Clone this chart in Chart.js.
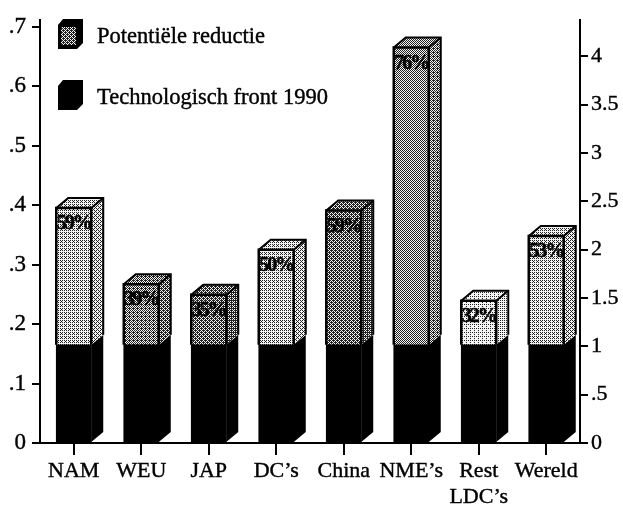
<!DOCTYPE html>
<html>
<head>
<meta charset="utf-8">
<script src="https://cdn.jsdelivr.net/npm/chart.js@4"></script>
<style>
  html, body { margin: 0; padding: 0; background: #fff; }
  canvas { display: block; }
</style>
</head>
<body>
<canvas id="myChart" width="623" height="507"></canvas>
<script>
'use strict';

//data
const categories = ['NAM', 'WEU', 'JAP', 'DC’s', 'China', 'NME’s', ['Rest', 'LDC’s'], 'Wereld'];
const frontValues = [0.165, 0.165, 0.165, 0.165, 0.165, 0.165, 0.165, 0.165];
const reductionValues = [0.230, 0.102, 0.084, 0.160, 0.226, 0.500, 0.074, 0.183];
const percentLabels = ['59%', '39%', '35%', '50%', '59%', '76%', '32%', '53%'];
const seriesNames = ['Potentiële reductie', 'Technologisch front 1990'];
const leftTicks = [0, 0.1, 0.2, 0.3, 0.4, 0.5, 0.6, 0.7];
const rightTicks = [0, 0.5, 1, 1.5, 2, 2.5, 3, 3.5, 4];

//how dark the dither is on each bar
const shades = [0.30, 0.56, 0.60, 0.32, 0.60, 0.48, 0.18, 0.30];

const FONT = '"Liberation Serif", serif';
const depthX = 12;
const depthY = 10;

const bayer = [
  [0, 8, 2, 10],
  [12, 4, 14, 6],
  [3, 11, 1, 9],
  [15, 7, 13, 5]
];

function makePattern(density) {
  let c = document.createElement('canvas');
  c.width = 4;
  c.height = 4;
  let g = c.getContext('2d');
  g.fillStyle = '#f4f4f4';
  g.fillRect(0, 0, 4, 4);
  g.fillStyle = '#222';
  for (let y = 0; y < 4; y++) {
    for (let x = 0; x < 4; x++) {
      if ((bayer[y][x] + 0.5) / 16 < density) {
        g.fillRect(x, y, 1, 1);
      }
    }
  }
  return g.createPattern(c, 'repeat');
}

const frontPatterns = shades.map(s => makePattern(s));
const sidePatterns = shades.map(s => makePattern(Math.min(s + 0.08, 0.9)));

function poly(ctx, pts, fill) {
  ctx.beginPath();
  ctx.moveTo(pts[0][0], pts[0][1]);
  for (let i = 1; i < pts.length; i++) {
    ctx.lineTo(pts[i][0], pts[i][1]);
  }
  ctx.closePath();
  ctx.fillStyle = fill;
  ctx.fill();
}

function outline(ctx, pts, width) {
  ctx.beginPath();
  ctx.moveTo(pts[0][0], pts[0][1]);
  for (let i = 1; i < pts.length; i++) {
    ctx.lineTo(pts[i][0], pts[i][1]);
  }
  ctx.lineWidth = width;
  ctx.strokeStyle = '#000';
  ctx.stroke();
}

//chart.js has no 3d bars, so the side and top faces hang off the bar elements
const boxPlugin = {
  id: 'box',
  afterDatasetsDraw(chart) {
    let ctx = chart.ctx;
    let blackBars = chart.getDatasetMeta(0).data;
    let upperBars = chart.getDatasetMeta(1).data;

    ctx.save();
    for (let i = 0; i < upperBars.length; i++) {
      let up = upperBars[i];
      let low = blackBars[i];
      let l = up.x - up.width / 2;
      let r = up.x + up.width / 2;
      let top = up.y;
      let mid = low.y;
      let base = low.base;

      //black side
      poly(ctx, [[r, base], [r + depthX, base - depthY], [r + depthX, mid - depthY], [r, mid]], '#000');

      //upper side and top
      let side = [[r, mid], [r + depthX, mid - depthY], [r + depthX, top - depthY], [r, top]];
      let lid = [[l, top], [l + depthX, top - depthY], [r + depthX, top - depthY], [r, top]];
      poly(ctx, side, sidePatterns[i]);
      poly(ctx, lid, frontPatterns[i]);
      outline(ctx, [[r + depthX, mid - depthY], [r + depthX, top - depthY], [l + depthX, top - depthY], [l, top]], 2);
      outline(ctx, [[r + depthX, top - depthY], [r, top]], 2);
      outline(ctx, [[l, mid], [l, top], [r, top], [r, mid]], 2.5);

      //percent on the front face
      ctx.fillStyle = '#000';
      ctx.strokeStyle = '#000';
      ctx.lineWidth = 0.5;
      ctx.font = 'bold 20px ' + FONT;
      ctx.textAlign = 'center';
      ctx.textBaseline = 'middle';
      ctx.letterSpacing = '-2px';
      ctx.fillText(percentLabels[i], up.x, top + 16);
      ctx.strokeText(percentLabels[i], up.x, top + 16);
      ctx.letterSpacing = '0px';
    }

    //legend sits inside the plot
    let rows = [
      { top: 19, text: seriesNames[0], pattern: makePattern(0.62) },
      { top: 80, text: seriesNames[1], pattern: null }
    ];
    ctx.font = '22.5px ' + FONT;
    ctx.textAlign = 'left';
    ctx.textBaseline = 'middle';
    for (let row of rows) {
      let t = row.top;
      poly(ctx, [[58, t + 6], [63, t], [83, t], [83, t + 24], [77, t + 30], [58, t + 30]], '#000');
      if (row.pattern) {
        poly(ctx, [[61, t + 8], [76, t + 8], [76, t + 26], [61, t + 26]], row.pattern);
      }
      ctx.fillStyle = '#000';
      ctx.strokeStyle = '#000';
      ctx.lineWidth = 0.4;
      ctx.fillText(row.text, 97, t + 18);
      ctx.strokeText(row.text, 97, t + 18);
    }
    ctx.restore();
  }
};

function tickText(v) {
  if (v === 0) {
    return '0';
  }
  return v < 1 ? String(v).replace('0.', '.') : String(v);
}

function forceTicks(list) {
  return function (axis) {
    axis.ticks = list.map(v => ({ value: v }));
  };
}

const data = {
  labels: categories,
  datasets: [
    {
      label: seriesNames[1],
      data: frontValues,
      backgroundColor: '#000',
      yAxisID: 'y',
      barThickness: 35
    },
    {
      label: seriesNames[0],
      data: reductionValues,
      backgroundColor: frontPatterns,
      yAxisID: 'y',
      barThickness: 35
    }
  ]
};

const config = {
  type: 'bar',
  data: data,
  plugins: [boxPlugin],
  options: {
    responsive: false,
    animation: false,
    events: [],
    layout: { padding: { top: 14 } },
    plugins: {
      legend: { display: false },
      tooltip: { enabled: false }
    },
    scales: {
      x: {
        stacked: true,
        grid: { offset: false, drawOnChartArea: false, color: '#000', lineWidth: 2, tickLength: 12 },
        border: { color: '#000', width: 2 },
        ticks: { color: '#000', font: { family: FONT, size: 22 }, padding: 3, maxRotation: 0, autoSkip: false, textStrokeColor: '#000', textStrokeWidth: 0.4 },
        afterFit(axis) { axis.height = 64; }
      },
      y: {
        stacked: true,
        position: 'left',
        min: 0,
        max: 0.7114,
        grid: { drawOnChartArea: false, color: '#000', lineWidth: 2, tickLength: 8 },
        border: { color: '#000', width: 2 },
        ticks: { color: '#000', font: { family: FONT, size: 23 }, padding: 6, callback: tickText, textStrokeColor: '#000', textStrokeWidth: 0.4 },
        afterBuildTicks: forceTicks(leftTicks),
        afterFit(axis) { axis.width = 40; }
      },
      y1: {
        position: 'right',
        min: 0,
        max: 4.378,
        grid: { drawOnChartArea: false, color: '#000', lineWidth: 2, tickLength: 8 },
        border: { color: '#000', width: 2 },
        ticks: { color: '#000', font: { family: FONT, size: 22 }, padding: 3, callback: tickText, textStrokeColor: '#000', textStrokeWidth: 0.4 },
        afterBuildTicks: forceTicks(rightTicks),
        afterFit(axis) { axis.width = 43; }
      }
    }
  }
};

const myChart = new Chart(document.getElementById('myChart'), config);
</script>
</body>
</html>
